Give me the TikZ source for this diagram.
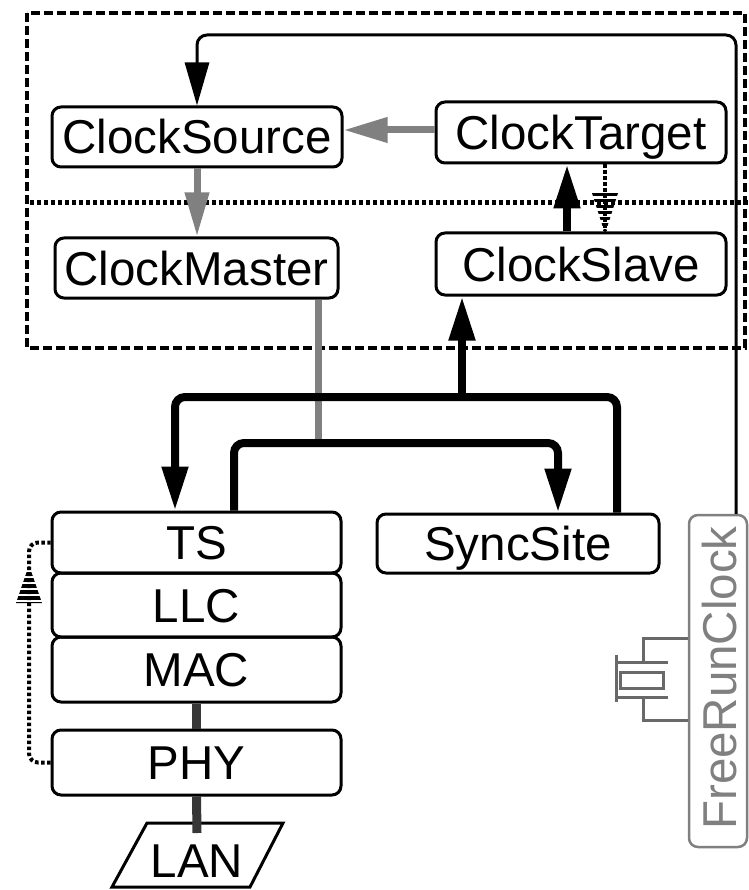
\documentclass[tikz,border=0pt]{standalone}
\usepackage{fontspec}
\setmainfont{Liberation Sans}
\usetikzlibrary{arrows.meta}
\definecolor{lg}{RGB}{128,128,128}
\definecolor{dg}{RGB}{55,55,55}
\definecolor{cg}{RGB}{105,105,105}
\newcommand\diagfont{\fontsize{47.5pt}{50pt}\selectfont}
\begin{document}
\begin{tikzpicture}[x=1pt,y=-1pt,
  box/.style={draw, line width=3pt, rounded corners=9pt, inner sep=0pt,
    text height=34pt, text depth=0pt, font=\diagfont},
  frcbox/.style={draw=lg, line width=2.5pt, rounded corners=9pt, inner sep=0pt},
  bigtip/.style={-{Triangle[length=44pt,width=25pt]}},
  thickline/.style={line width=8pt, rounded corners=10pt, bigtip},
  grayline/.style={line width=7pt, color=lg},
  thinline/.style={line width=3pt, rounded corners=10pt},
  dotline/.style={line width=4pt, dash pattern=on 3.5pt off 2.5pt},
  divline/.style={line width=5pt, dash pattern=on 4pt off 3pt},
  dashline/.style={line width=4pt, dash pattern=on 9pt off 4pt},
  darkline/.style={line width=9pt, color=dg},
  xtal/.style={line width=3pt, color=cg},
  lbl/.style={inner sep=0pt, text height=34pt, text depth=0pt, font=\diagfont}]
\useasboundingbox (0,0) rectangle (748,890);

% frames
\draw[dashline] (27,13) rectangle (745,348);
\draw[divline] (30,203) -- (748,203);

% nodes
\node[box, minimum width=290pt, minimum height=60pt] (cs) at (197,137) {ClockSource};
\node[box, minimum width=290pt, minimum height=61pt] (ct) at (581,132.5) {ClockTarget};
\node[box, minimum width=283pt, minimum height=60pt] (cm) at (196.5,268) {ClockMaster};
\node[box, minimum width=290pt, minimum height=62pt] (csl) at (581,264) {ClockSlave};
\node[box, minimum width=289pt, minimum height=61pt] (ts) at (196.5,542.5) {TS};
\node[box, minimum width=289pt, minimum height=64pt] (llc) at (196.5,605) {LLC};
\node[box, minimum width=289pt, minimum height=65pt] (mac) at (196.5,669.5) {MAC};
\node[box, minimum width=289pt, minimum height=65pt] (phy) at (196.5,762.5) {PHY};
\node[box, minimum width=282pt, minimum height=59pt] (ss) at (518,543.5) {SyncSite};
\node[frcbox, minimum width=58pt, minimum height=332pt] (frc) at (718,681) {};
\node[lbl, text=lg, rotate=90] (frct) at (719,678) {FreeRunClock};
\node[lbl] (lan) at (197,860) {LAN};
\draw[line width=3pt, line join=miter] (147,823) -- (283,823) -- (250,887) -- (112,887) -- cycle;

% helper coordinates
\coordinate (x175) at (175,0);
\coordinate (x234) at (234,0);
\coordinate (x318) at (318,0);
\coordinate (x462) at (462,0);
\coordinate (x558) at (558,0);
\coordinate (x567) at (567,0);
\coordinate (x605) at (605,0);
\coordinate (x617) at (617,0);
\coordinate (x736) at (736,0);
\coordinate (y130) at (0,130);
\coordinate (lanin) at (197,833);

% top feedback line from FreeRunClock to ClockSource
\draw[thinline, -{Triangle[length=43pt,width=24pt]}] (x736 |- frc.north) -- (736,35) -- (197,35) -- (cs.north);

% gray arrows
\draw[grayline, -{Triangle[length=44pt,width=24pt]}] (ct.west |- y130) -- (cs.east |- y130);
\draw[grayline, -{Triangle[length=44pt,width=23pt]}] (cs.south) -- (cs.south |- cm.north);
\draw[grayline] (x318 |- cm.south) -- (318,443);

% ClockSlave -> ClockTarget
\draw[thickline] (x567 |- csl.north) -- (x567 |- ct.south);
% dotted ClockTarget -> ClockSlave
\draw[dotline] (x605 |- ct.south) -- (x605 |- csl.north);
\begin{scope}
  \clip (592,193) -- (618,193) -- (605,234) -- cycle;
  \foreach \yy in {193,199,...,233} \fill (580,\yy) rectangle (630,\yy+3.5);
\end{scope}

% SyncSite -> TS and ClockSlave
\draw[thickline] (x617 |- ss.north) -- (617,397) -- (175,397) -- (x175 |- ts.north);
\draw[thickline] (462,397) -- (x462 |- csl.south);
% TS -> SyncSite
\draw[thickline] (x234 |- ts.north) -- (234,443) -- (558,443) -- (x558 |- ss.north);

% stack connectors
\draw[darkline] (mac.south) -- (phy.north);
\draw[darkline] (phy.south) -- (lanin);

% dotted PHY -> TS
\draw[dotline, rounded corners=9pt] (phy.west) -- (29,762.5) -- (29,542.5) -- (ts.west);
\begin{scope}
  \clip (16,603) -- (42,603) -- (29,565) -- cycle;
  \foreach \yy in {566,572,...,602} \fill (10,\yy) rectangle (50,\yy+3.5);
\end{scope}

% crystal
\draw[xtal] (frc.west |- 0,638) -- (643,638) -- (643,662);
\draw[xtal] (615,662) -- (668,662);
\draw[xtal] (615,697) -- (668,697);
\draw[xtal] (643,697) -- (643,720) -- (frc.west |- 0,720);
\draw[xtal] (620,672) rectangle (663,688);
\draw[xtal] (616,655) -- (616,702);
\end{tikzpicture}
\end{document}
